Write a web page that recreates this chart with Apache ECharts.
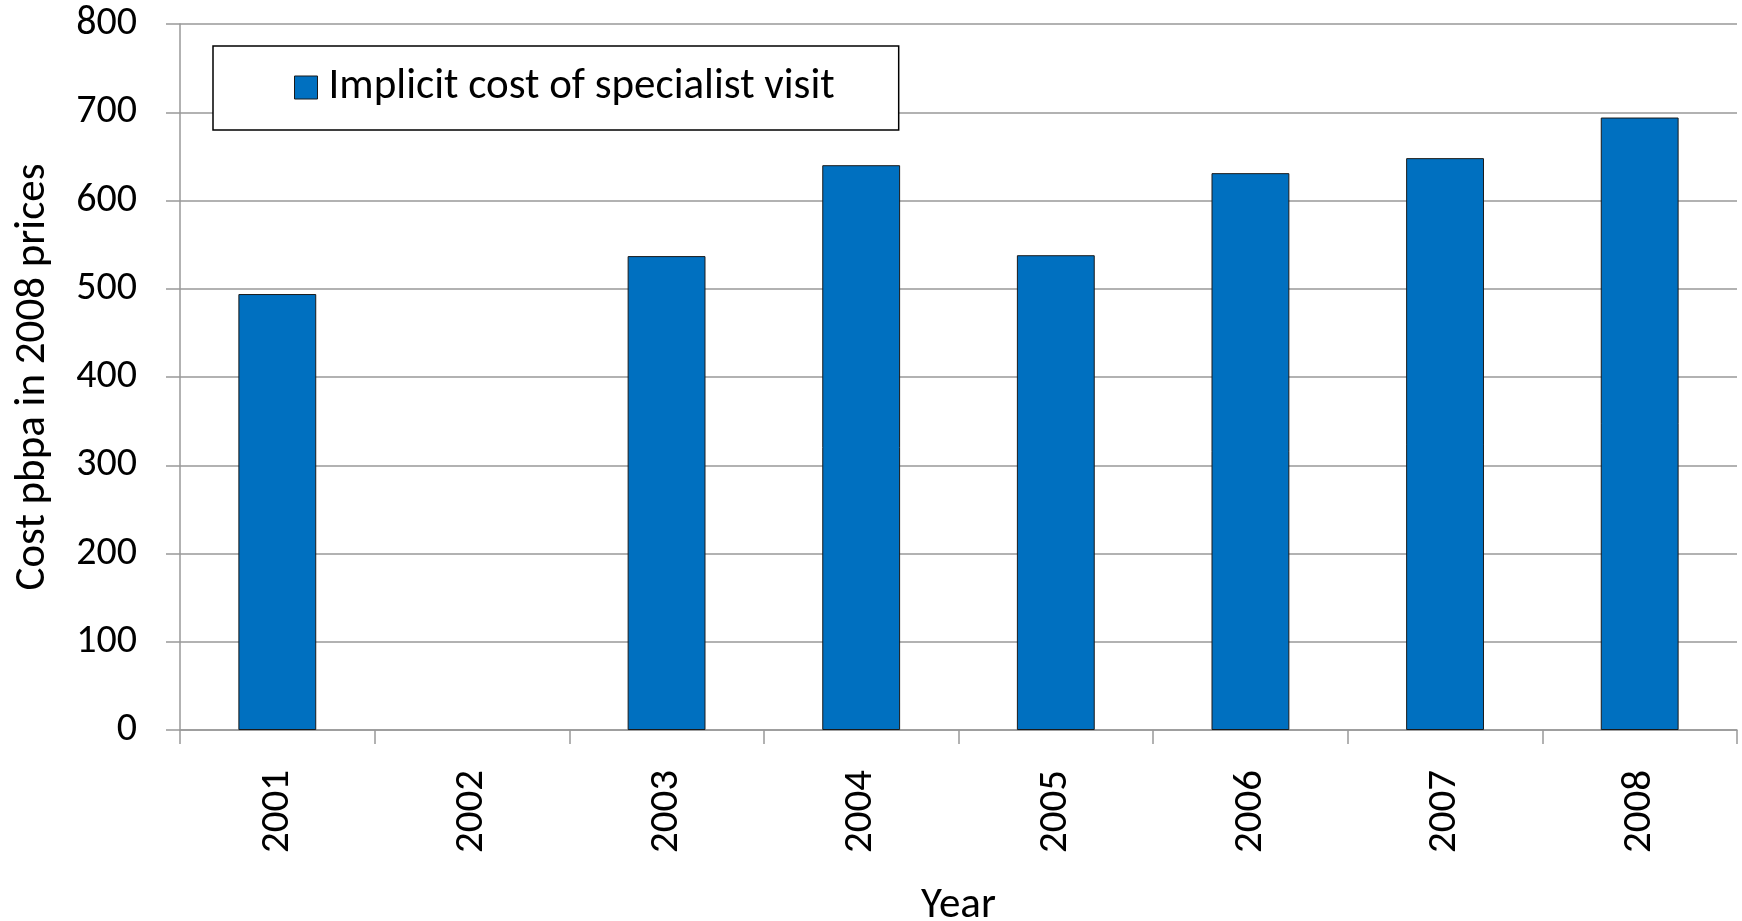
<!DOCTYPE html>
<html>
<head>
<meta charset="utf-8">
<script src="https://cdn.jsdelivr.net/npm/echarts@6/dist/echarts.min.js"></script>
<style>
html,body{margin:0;padding:0;background:#fff;}
#c{width:1742px;height:921px;}
</style>
</head>
<body>
<div id="c"></div>
<script>
const categories = ['2001','2002','2003','2004','2005','2006','2007','2008'];
const costValues = [494, null, 537, 640, 538, 631, 648, 694];
const seriesName = 'Implicit cost of specialist visit';
const yTicks = {min: 0, max: 800, interval: 100};

const FONT = 'Carlito, Lato, sans-serif';
const chart = echarts.init(document.getElementById('c'), null, {renderer: 'canvas'});
chart.setOption({
  animation: false,
  backgroundColor: '#ffffff',
  grid: {left: 180, right: 5, top: 24, bottom: 191, containLabel: false, outerBoundsMode: 'none'},
  legend: {
    show: true,
    left: 213,
    top: 46,
    orient: 'horizontal',
    backgroundColor: '#ffffff',
    borderColor: '#000000',
    borderWidth: 1.5,
    padding: [20, 64, 21, 81],
    itemWidth: 23,
    itemHeight: 23,
    icon: 'rect',
    textStyle: {fontFamily: FONT, fontSize: 43, lineHeight: 40, color: '#000', padding: [0,0,0,6]},
    data: [{name: seriesName, itemStyle: {color: '#0070C0', borderColor: '#1a1a1a', borderWidth: 1}}]
  },
  xAxis: {
    type: 'category',
    data: categories,
    boundaryGap: true,
    name: 'Year',
    nameLocation: 'middle',
    nameGap: 155,
    nameTextStyle: {fontFamily: FONT, fontSize: 43, color: '#000'},
    axisLine: {lineStyle: {color: '#999', width: 1.5}},
    axisTick: {show: true, length: 14, lineStyle: {color: '#999', width: 1.5}},
    axisLabel: {rotate: 90, margin: 40, fontFamily: FONT, fontSize: 41, color: '#000'},
    splitLine: {show: false}
  },
  yAxis: {
    type: 'value',
    min: yTicks.min, max: yTicks.max, interval: yTicks.interval,
    name: 'Cost pbpa in 2008 prices',
    nameLocation: 'middle',
    nameGap: 125,
    nameTextStyle: {fontFamily: FONT, fontSize: 43, color: '#000'},
    axisLine: {show: true, lineStyle: {color: '#999', width: 1.5}},
    axisTick: {show: true, length: 14, lineStyle: {color: '#999', width: 1.5}},
    axisLabel: {margin: 43, fontFamily: FONT, fontSize: 40, color: '#000'},
    splitLine: {show: true, lineStyle: {color: '#999', width: 1.5}}
  },
  series: [{
    name: seriesName,
    type: 'bar',
    data: costValues,
    barWidth: '40%',
    itemStyle: {color: '#0070C0', borderColor: '#1a1a1a', borderWidth: 1}
  }]
});
</script>
</body>
</html>
